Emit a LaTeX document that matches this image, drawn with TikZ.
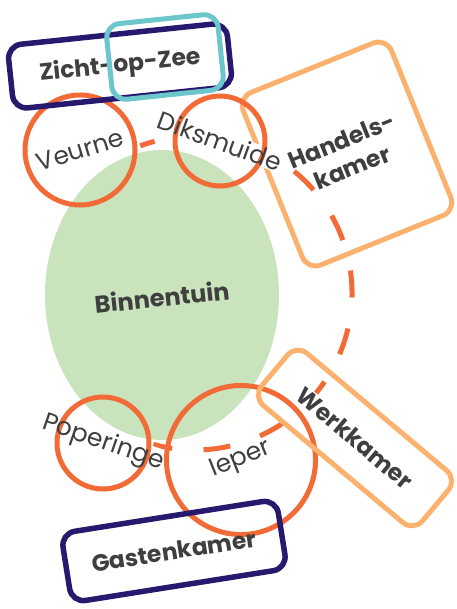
\documentclass[tikz,border=0pt]{standalone}
\usepackage{fontspec}
\setmainfont{Poppins}
\usetikzlibrary{shapes.geometric}
\definecolor{townorange}{HTML}{F26A36}
\definecolor{roomorange}{HTML}{FBB26E}
\definecolor{roomnavy}{HTML}{27196E}
\definecolor{roomteal}{HTML}{6CC6CC}
\definecolor{gardengreen}{HTML}{C9E3BC}
\definecolor{ink}{HTML}{3F3F3F}
\setlength{\fboxsep}{0.5pt}
\newcommand{\narrow}[1]{\makebox[0pt]{#1}}
\newcommand{\blank}[1]{\makebox[0pt]{\colorbox{white}{\phantom{#1}}}}

\begin{document}
\begin{tikzpicture}[x=1pt,y=-1pt,
  garden/.style={ellipse,fill=gardengreen,minimum width=234,minimum height=290,inner sep=0pt},
  townfont/.style={font=\fontsize{25}{28}\selectfont},
  roomfont/.style={font=\fontsize{23.5}{29}\selectfont\bfseries},
  town/.style={circle,draw=townorange,line width=5pt,text=ink,townfont,inner sep=0pt},
  room/.style={rectangle,rounded corners=14pt,line width=5pt,text=ink,roomfont,align=center,inner sep=0pt},
  mask/.style={inner sep=0pt},
  route/.style={draw=townorange,line width=5pt,dash pattern=on 27pt off 31.4pt,dash phase=12pt}]
  \useasboundingbox (0,0) rectangle (456,609);
  % garden in the middle
  \node[garden] (tuin) at (162,295) {};
  \node[text=ink,font=\fontsize{24}{28}\selectfont\bfseries,rotate=6] (tuinlabel) at (162,297) {Binnentuin};
  % dashed route round the garden
  \coordinate (ring) at (195,293);
  \draw[route] ([shift={(-110.4:157)}]ring) arc[start angle=-110.4,end angle=105.4,radius=157];
  \node[room,draw=roomorange,minimum width=160,minimum height=186,rotate=22] (handel) at (347,154) {Handels-\\kamer};
  % white under the labels, so the route stops at the text
  \node[mask,townfont,rotate=-20] (diksmuidemask) at (220,141) {\blank{Diksmuide}};
  \node[mask,townfont,rotate=-19] (poperingemask) at (103,443) {\raisebox{-7pt}{\blank{Poperinge}}};
  \node[mask,townfont,rotate=22] (iepermask) at (241,460) {\blank{Ieper}};
  \node[mask,roomfont,rotate=-40] (werkmask) at (355,438) {\blank{Werkkamer}};
  % towns
  \node[town,minimum size=110,rotate=17] (veurne) at (80,150) {\narrow{Veurne}};
  \node[town,minimum size=90,rotate=-20] (diksmuide) at (diksmuidemask) {\narrow{Diksmuide}};
  \node[town,minimum size=92,rotate=-19] (poperinge) at (poperingemask) {\raisebox{-7pt}{\narrow{Poperinge}}};
  \node[town,minimum size=149,rotate=22] (ieper) at (iepermask) {\narrow{Ieper}};
  % rooms
  \node[room,draw=roomorange,minimum width=210,minimum height=68,rotate=-40] (werk) at (werkmask) {Werkkamer};
  \node[room,draw=roomnavy,line width=5.5pt,minimum width=220,minimum height=64,rotate=6] (zicht) at (120,66) {Zicht-op-Zee};
  \node[room,draw=roomteal,minimum width=112,minimum height=76,rotate=6] (zee) at (165,57) {};
  \node[room,draw=roomnavy,line width=5.5pt,minimum width=218,minimum height=70,rotate=9] (gasten) at (174,551) {\raisebox{-4pt}{Gastenkamer}};
\end{tikzpicture}
\end{document}
